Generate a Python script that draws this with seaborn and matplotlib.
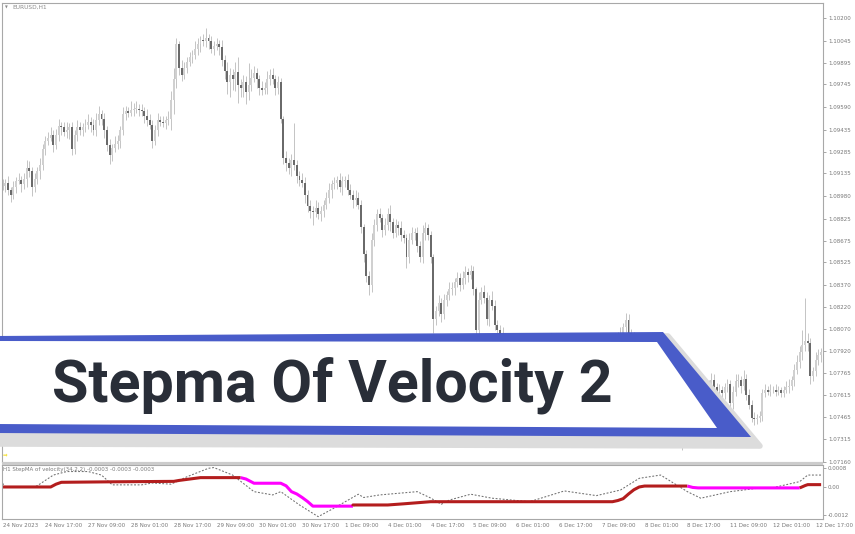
import numpy as np
import pandas as pd
import matplotlib
matplotlib.use("Agg")
import matplotlib.pyplot as plt
import seaborn as sns
from matplotlib.patches import Polygon, Rectangle

# ---------------- data ----------------
first_open = 1.0906
closes = [
    1.0905, 1.0907, 1.0902, 1.0899, 1.0904, 1.0908, 1.0909, 1.0906, 1.0910, 1.0917,
    1.0915, 1.0904, 1.0910, 1.0915, 1.0919, 1.0930, 1.0936, 1.0938, 1.0940, 1.0933,
    1.0940, 1.0946, 1.0945, 1.0942, 1.0943, 1.0945, 1.0930, 1.0940, 1.0945, 1.0943,
    1.0945, 1.0947, 1.0949, 1.0947, 1.0943, 1.0950, 1.0954, 1.0951, 1.0943, 1.0933,
    1.0926, 1.0931, 1.0934, 1.0936, 1.0943, 1.0954, 1.0956, 1.0955, 1.0957, 1.0958,
    1.0958, 1.0957, 1.0956, 1.0953, 1.0950, 1.0947, 1.0936, 1.0943, 1.0950, 1.0949,
    1.0948, 1.0950, 1.0951, 1.0964, 1.0978, 1.1002, 1.0986, 1.0981, 1.0986, 1.0990,
    1.0993, 1.0995, 1.0999, 1.1002, 1.1005, 1.1004, 1.1006, 1.1004, 1.0999, 1.1001,
    1.1002, 1.1000, 1.0991, 1.0984, 1.0976, 1.0981, 1.0978, 1.0983, 1.0974, 1.0972,
    1.0976, 1.0969, 1.0974, 1.0979, 1.0982, 1.0978, 1.0972, 1.0971, 1.0972, 1.0978,
    1.0981, 1.0978, 1.0972, 1.0976, 1.0951, 1.0924, 1.0921, 1.0917, 1.0923, 1.0919,
    1.0912, 1.0909, 1.0907, 1.0899, 1.0891, 1.0888, 1.0887, 1.0890, 1.0886, 1.0888,
    1.0892, 1.0897, 1.0902, 1.0906, 1.0907, 1.0909, 1.0904, 1.0908, 1.0909, 1.0902,
    1.0899, 1.0895, 1.0897, 1.0892, 1.0877, 1.0858, 1.0843, 1.0837, 1.0868, 1.0878,
    1.0886, 1.0883, 1.0875, 1.0878, 1.0886, 1.0880, 1.0873, 1.0878, 1.0876, 1.0871,
    1.0869, 1.0856, 1.0868, 1.0873, 1.0873, 1.0864, 1.0856, 1.0873, 1.0876, 1.0871,
    1.0856, 1.0814, 1.0819, 1.0825, 1.0817, 1.0827, 1.0830, 1.0834, 1.0835, 1.0839,
    1.0842, 1.0837, 1.0842, 1.0846, 1.0844, 1.0847, 1.0834, 1.0806, 1.0827, 1.0832,
    1.0828, 1.0814, 1.0827, 1.0823, 1.0810, 1.0806, 1.0803, 1.0801, 1.0798, 1.0796,
    1.0797, 1.0794, 1.0796, 1.0793, 1.0795, 1.0797, 1.0795, 1.0798, 1.0799, 1.0796,
    1.0793, 1.0794, 1.0797, 1.0798, 1.0799, 1.0796, 1.0791, 1.0787, 1.0784, 1.0780,
    1.0778, 1.0775, 1.0772, 1.0769, 1.0771, 1.0768, 1.0770, 1.0772, 1.0771, 1.0773,
    1.0776, 1.0775, 1.0779, 1.0782, 1.0786, 1.0789, 1.0793, 1.0796, 1.0798, 1.0801,
    1.0802, 1.0804, 1.0808, 1.0813, 1.0804, 1.0801, 1.0798, 1.0795, 1.0797, 1.0794,
    1.0796, 1.0793, 1.0794, 1.0791, 1.0793, 1.0790, 1.0791, 1.0788, 1.0790, 1.0791,
    1.0789, 1.0791, 1.0788, 1.0786, 1.0738, 1.0748, 1.0755, 1.0760, 1.0762, 1.0764,
    1.0765, 1.0764, 1.0762, 1.0765, 1.0769, 1.0772, 1.0767, 1.0764, 1.0765, 1.0763,
    1.0767, 1.0769, 1.0756, 1.0764, 1.0771, 1.0772, 1.0768, 1.0773, 1.0762, 1.0755,
    1.0746, 1.0745, 1.0746, 1.0747, 1.0763, 1.0765, 1.0764, 1.0765, 1.0765, 1.0764,
    1.0765, 1.0763, 1.0765, 1.0767, 1.0768, 1.0772, 1.0779, 1.0784, 1.0791, 1.0796,
    1.0799, 1.0797, 1.0775, 1.0778, 1.0786, 1.0789, 1.0791,
]
# wick lengths in pips (0.0001)
wick_up = [
    4, 3, 5, 2, 4, 3, 5, 3, 4, 6,   5, 3, 4, 3, 5, 4, 3, 4, 5, 3,
    4, 5, 3, 4, 6, 3, 4, 3, 5, 4,   3, 4, 5, 3, 4, 5, 6, 3, 4, 3,
    4, 3, 5, 4, 3, 5, 4, 3, 6, 4,   5, 3, 4, 3, 5, 4, 3, 4, 5, 3,
    4, 3, 5, 6, 8, 4, 2, 5, 4, 3,   4, 3, 5, 4, 3, 4, 7, 3, 4, 3,
    4, 3, 5, 4, 6, 5, 4, 7, 10, 4,  5, 4, 15, 6, 5, 4, 3, 5, 4, 6,
    4, 5, 3, 4, 3, 2, 5, 3, 4, 25,  4, 3, 5, 4, 3, 4, 3, 5, 4, 3,
    3, 4, 5, 3, 4, 3, 5, 4, 3, 4,   4, 3, 5, 4, 3, 2, 3, 4, 5, 4,
    3, 4, 3, 5, 4, 6, 3, 4, 3, 5,   4, 3, 5, 4, 3, 4, 3, 5, 4, 3,
    3, 2, 4, 5, 3, 4, 3, 5, 4, 3,   4, 3, 5, 4, 3, 4, 3, 2, 5, 4,
    5, 4, 3, 6, 4, 3, 4, 5, 3, 4,   3, 4, 3, 5, 4, 3, 4, 5, 4, 3,
    4, 3, 5, 4, 3, 5, 3, 4, 3, 4,   3, 4, 3, 5, 4, 3, 5, 4, 3, 4,
    4, 3, 5, 4, 3, 4, 5, 3, 4, 3,   3, 4, 3, 5, 4, 3, 4, 5, 3, 4,
    4, 3, 5, 4, 3, 5, 4, 3, 4, 5,   3, 4, 5, 3, 4, 6, 4, 3, 5, 4,
    4, 3, 5, 4, 3, 5, 4, 3, 4, 3,   3, 4, 3, 4, 5, 4, 3, 6, 3, 4,
    3, 4, 3, 4, 3, 4, 3, 4, 3, 4,   3, 2, 3, 4, 5, 3, 4, 5, 4, 10,
    29, 5, 4, 3, 5, 4, 3,
]
wick_dn = [
    3, 4, 3, 5, 3, 4, 2, 5, 3, 6,   4, 6, 3, 4, 5, 3, 4, 3, 2, 5,
    3, 4, 5, 3, 4, 6, 4, 3, 4, 3,   4, 3, 3, 5, 3, 4, 3, 4, 5, 4,
    6, 4, 3, 4, 5, 3, 4, 3, 2, 4,   3, 4, 3, 5, 4, 3, 5, 3, 4, 3,
    3, 4, 3, 8, 10, 6, 5, 4, 3, 4,  3, 4, 3, 4, 5, 3, 4, 5, 3, 4,
    3, 5, 4, 6, 8, 10, 7, 8, 12, 6, 6, 8, 5, 4, 3, 6, 5, 4, 3, 4,
    4, 3, 5, 4, 3, 4, 6, 4, 5, 3,   5, 4, 3, 6, 4, 5, 9, 3, 4, 5,
    4, 3, 4, 5, 3, 4, 3, 5, 4, 3,   3, 5, 4, 3, 4, 5, 4, 7, 5, 4,
    4, 3, 5, 4, 3, 6, 4, 3, 5, 4,   3, 7, 4, 3, 5, 4, 3, 4, 5, 3,
    4, 10, 4, 3, 5, 3, 4, 3, 4, 5,  3, 4, 3, 4, 5, 3, 4, 6, 4, 3,
    3, 4, 5, 3, 4, 6, 3, 4, 5, 3,   4, 3, 5, 4, 3, 4, 3, 5, 4, 3,
    3, 4, 3, 5, 4, 3, 4, 3, 5, 4,   4, 3, 5, 4, 3, 5, 4, 3, 4, 3,
    3, 4, 3, 4, 5, 3, 4, 3, 5, 4,   4, 3, 4, 3, 5, 4, 3, 4, 5, 3,
    3, 4, 3, 5, 4, 3, 4, 5, 3, 4,   4, 3, 4, 5, 14, 4, 5, 3, 4, 3,
    3, 4, 3, 5, 4, 3, 4, 5, 3, 4,   4, 3, 5, 4, 3, 4, 5, 3, 4, 3,
    3, 4, 3, 3, 3, 3, 2, 3, 2, 3,   2, 3, 3, 2, 4, 3, 4, 3, 4, 5,
    4, 5, 6, 4, 3, 4, 5,
]

price_ticks = [1.10200, 1.10045, 1.09895, 1.09745, 1.09590, 1.09435, 1.09285,
               1.09135, 1.08980, 1.08825, 1.08675, 1.08525, 1.08370, 1.08220,
               1.08070, 1.07920, 1.07765, 1.07615, 1.07465, 1.07315, 1.07160]
sub_ticks = [0.0008, 0.0, -0.0012]
sub_tick_labels = ["0.0008", "0.00", "-0.0012"]
xtick_bars = [0, 16, 32, 48, 64, 80, 96, 112, 128, 144, 160, 176, 192, 208,
              224, 240, 256, 272, 288, 304]
xtick_labels = ["24 Nov 2023", "24 Nov 17:00", "27 Nov 09:00", "28 Nov 01:00",
                "28 Nov 17:00", "29 Nov 09:00", "30 Nov 01:00", "30 Nov 17:00",
                "1 Dec 09:00", "4 Dec 01:00", "4 Dec 17:00", "5 Dec 09:00",
                "6 Dec 01:00", "6 Dec 17:00", "7 Dec 09:00", "8 Dec 01:00",
                "8 Dec 17:00", "11 Dec 09:00", "12 Dec 01:00", "12 Dec 17:00"]

# velocity (dotted) and StepMA vertices
vel_bars = [0, 1, 3, 12, 14, 19, 24, 32, 37, 41, 52, 56, 63, 69, 77, 79, 86,
            94, 101, 104, 111, 118, 124, 133, 135, 141, 155, 160, 164, 167,
            175, 183, 197, 210, 222, 231, 238, 246, 256, 261, 272, 284, 288,
            298, 301, 306]
vel_vals = [0.00016, 0.00001, -0.00001, -0.00001, 0.00013, 0.00051, 0.00066,
            0.00066, 0.00051, 0.00009, 0.00009, 0.00017, 0.00012, 0.00044,
            0.00080, 0.00083, 0.00051, -0.00020, -0.00034, -0.00020, -0.00077,
            -0.00127, -0.00090, -0.00031, -0.00045, -0.00034, -0.00020,
            -0.00047, -0.00074, -0.00056, -0.00031, -0.00048, -0.00063,
            -0.00017, -0.00037, -0.00013, 0.00037, 0.00051, -0.00020,
            -0.00048, -0.00020, -0.00003, -0.00003, 0.00023, 0.00051, 0.00051]

step_bars = [0, 18, 20, 22, 40, 64, 66, 70, 74, 89,
             91, 94, 104, 106, 108, 110, 112, 114, 116, 131,
             131, 144, 150, 160, 228, 230, 232, 234, 236, 238, 240, 256,
             258, 260, 298,
             300, 301, 306]
step_vals = [0.0, 0.0, 0.00012, 0.00020, 0.00022, 0.00024, 0.00028, 0.00034, 0.00040, 0.00040,
             0.00034, 0.00016, 0.00016, 0.00005, -0.00020, -0.00030, -0.00045, -0.00062, -0.00082, -0.00082,
             -0.00077, -0.00077, -0.00072, -0.00063, -0.00063, -0.00058, -0.00050, -0.00030, -0.00012, 0.0, 0.00004, 0.00004,
             -0.00002, -0.00004, -0.00004,
             0.00006, 0.00010, 0.00010]
step_trend = ["up"] * 10 + ["down"] * 10 + ["up"] * 12 + ["down"] * 3 + ["up"] * 3

# ---------------- figure ----------------
sns.set_style("white")
plt.rcParams["font.family"] = ["DejaVu Sans"]

W, H = 855, 534
fig = plt.figure(figsize=(W / 100, H / 100), dpi=100)
fig.patch.set_facecolor("white")

ax = fig.add_axes([2 / W, (H - 462) / H, 821 / W, 459 / H])
ax2 = fig.add_axes([2 / W, (H - 519) / H, 821 / W, 54 / H])

closes_a = np.array(closes)
opens_a = np.concatenate([[first_open], closes_a[:-1]])
bars = np.arange(len(closes_a))
highs = np.maximum(opens_a, closes_a) + np.array(wick_up) * 0.0001
lows = np.minimum(opens_a, closes_a) - np.array(wick_dn) * 0.0001
bull = closes_a >= opens_a

ax.vlines(bars, lows, highs, color="#c4c4c4", lw=0.7, zorder=1)
body = np.maximum(np.abs(closes_a - opens_a), 0.00002)
ax.bar(bars[bull], body[bull], bottom=opens_a[bull], width=0.72,
       color="#d0d0d0", linewidth=0, zorder=2)
ax.bar(bars[~bull], body[~bull], bottom=closes_a[~bull], width=0.72,
       color="#6a6a6a", linewidth=0, zorder=2)

ax.set_xlim(-0.2, 306.7)
ax.set_ylim(1.07158, 1.10303)
ax.yaxis.tick_right()
ax.set_yticks(price_ticks)
ax.set_yticklabels([f"{v:.5f}" for v in price_ticks])
ax.set_xticks([])
ax.tick_params(axis="y", length=2, width=0.6, color="#999999", pad=1.5,
               labelsize=4, labelcolor="#777777")

# indicator
df_vel = pd.DataFrame({"bar": vel_bars, "v": vel_vals})
sns.lineplot(data=df_vel, x="bar", y="v", ax=ax2, color="#6f6f6f", lw=0.75,
             linestyle=(0, (1.8, 1.6)), estimator=None, sort=False)

df_step = pd.DataFrame({"bar": step_bars, "v": step_vals, "trend": step_trend})
runs = []
start = 0
for i in range(1, len(df_step) + 1):
    if i == len(df_step) or df_step.trend[i] != df_step.trend[i - 1]:
        seg = df_step.iloc[start:i]
        if start > 0:
            seg = pd.concat([df_step.iloc[start - 1:start], seg])
        runs.append((seg, df_step.trend[start]))
        start = i
for seg, tr in runs:
    sns.lineplot(data=seg, x="bar", y="v", ax=ax2,
                 color="#b31d1d" if tr == "up" else "#ff00ff",
                 lw=2.2, estimator=None, sort=False, solid_capstyle="butt")

ax2.set_xlim(-0.2, 306.7)
ax2.set_ylim(-0.00137, 0.00094)
ax2.set_xlabel("")
ax2.set_ylabel("")
ax2.yaxis.tick_right()
ax2.set_yticks(sub_ticks)
ax2.set_yticklabels(sub_tick_labels)
ax2.set_xticks(xtick_bars)
ax2.set_xticklabels(xtick_labels, ha="left")
ax2.tick_params(axis="y", length=2, width=0.6, color="#999999", pad=1.5,
                labelsize=4, labelcolor="#777777")
ax2.tick_params(axis="x", length=2, width=0.6, color="#999999", pad=1.2,
                labelsize=4, labelcolor="#777777")
ax2.text(1 / 821, (519 - 470) / 54, "H1 StepMA of velocity(34,2,2) -0.0003 -0.0003 -0.0003",
         transform=ax2.transAxes, fontsize=4, color="#7a7a7a", va="center", ha="left")

for a in (ax, ax2):
    for s in a.spines.values():
        s.set_color("#a8a8a8")
        s.set_linewidth(0.8)

# ---------------- overlay (banner, labels) ----------------
ov = fig.add_axes([0, 0, 1, 1], zorder=10)
ov.set_xlim(0, W)
ov.set_ylim(H, 0)
ov.axis("off")

ov.add_patch(Rectangle((2, 462), 821, 2.5, color="#cccccc", lw=0))
ov.text(5, 7.5, "\u25bc", fontsize=2.6, color="#888888", va="center", ha="left")
ov.text(12, 7.5, "EURUSD,H1", fontsize=4.2, color="#8a8a8a", va="center", ha="left")
ov.text(3, 455, "\u21d2", fontsize=4, color="#f2d800", va="center", ha="left")

shadow = Polygon([(-5, 340), (668, 336), (760, 446), (-5, 444)], closed=True,
                 facecolor="#dcdcdc", edgecolor="#dcdcdc", lw=4, joinstyle="round")
blue = Polygon([(-5, 336), (663, 332), (751, 437), (-5, 433)], closed=True,
               facecolor="#4155c8", edgecolor="none", alpha=0.95)
white = Polygon([(-5, 341), (657, 342), (717, 428), (-5, 424)], closed=True,
                facecolor="white", edgecolor="none")
ov.add_patch(shadow)
ov.add_patch(blue)
ov.add_patch(white)
ov.text(52, 402, "Stepma Of Velocity 2", fontsize=42.6, fontweight="bold",
        family=["Roboto", "DejaVu Sans"], color="#292e38", va="baseline", ha="left")

fig.savefig("out.png", dpi=100)
